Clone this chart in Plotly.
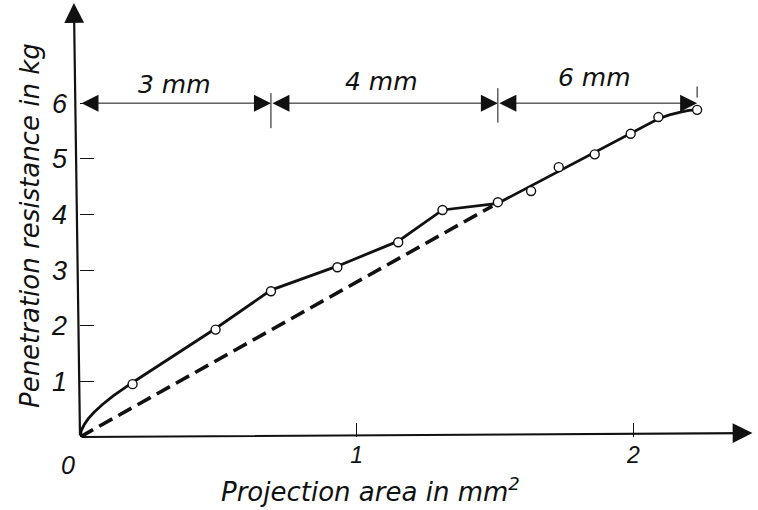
import plotly.graph_objects as go

# measured points (projection area mm^2, penetration resistance kg)
pts_x = [0.19, 0.49, 0.69, 0.93, 1.15, 1.31, 1.51, 1.63, 1.73, 1.86, 1.99, 2.09, 2.23]
pts_y = [0.95, 1.93, 2.62, 3.05, 3.50, 4.08, 4.22, 4.42, 4.85, 5.08, 5.45, 5.75, 5.88]

# drawn solid curve through the measurements
curve_x = [0, 0.005, 0.015, 0.03, 0.05, 0.08, 0.12, 0.155, 0.19, 0.49, 0.69, 0.93, 1.15,
           1.31, 1.51, 2.09, 2.13, 2.17, 2.20, 2.23]
curve_y = [0, 0.12, 0.22, 0.33, 0.44, 0.58, 0.74, 0.86, 0.98, 1.95, 2.64, 3.07, 3.52,
           4.08, 4.20, 5.72, 5.79, 5.84, 5.87, 5.88]

# dashed reference line
dash_x = [0, 1.49]
dash_y = [0, 4.15]

# dimension segments (wire diameter ranges)
dim_bounds = [0, 0.69, 1.51, 2.23]
dim_labels = ["3 mm", "4 mm", "6 mm"]
dim_label_x = [0.34, 1.09, 1.86]
dim_label_y = [6.34, 6.39, 6.47]
dim_y = 6.0

x_ticks = [1, 2]
y_ticks = [1, 2, 3, 4, 5, 6]

FONT = "DejaVu Sans"
DIGITS = "Liberation Sans"
INK = "#111111"

fig = go.Figure()
fig.add_trace(go.Scatter(x=dash_x, y=dash_y, mode="lines",
                         line=dict(color=INK, width=3.6, dash="15px,7px"),
                         cliponaxis=False, hoverinfo="skip"))
fig.add_trace(go.Scatter(x=curve_x, y=curve_y, mode="lines",
                         line=dict(color=INK, width=2.8),
                         cliponaxis=False, hoverinfo="skip"))
fig.add_trace(go.Scatter(x=pts_x, y=pts_y, mode="markers",
                         marker=dict(symbol="circle", size=9, color="white",
                                     line=dict(color=INK, width=1.4)),
                         cliponaxis=False))

ann = []
# axes with arrows
ann.append(dict(x=2.43, y=0.07, ax=0, ay=0, xref="x", yref="y", axref="x", ayref="y",
                text="", showarrow=True, arrowhead=2, arrowsize=1.8, arrowwidth=2.2,
                arrowcolor=INK, standoff=0, startstandoff=0))
ann.append(dict(x=-0.022, y=7.8, ax=0, ay=0, xref="x", yref="y", axref="x", ayref="y",
                text="", showarrow=True, arrowhead=2, arrowsize=1.8, arrowwidth=2.2,
                arrowcolor=INK, standoff=0, startstandoff=0))
# dimension arrows
for i in range(3):
    ann.append(dict(x=dim_bounds[i + 1], y=dim_y, ax=dim_bounds[i], ay=dim_y,
                    xref="x", yref="y", axref="x", ayref="y", text="",
                    showarrow=True, arrowhead=2, arrowside="end+start",
                    arrowsize=3.4, arrowwidth=1, arrowcolor=INK,
                    standoff=0, startstandoff=0))
    ann.append(dict(x=dim_label_x[i], y=dim_label_y[i], xref="x", yref="y",
                    xanchor="center", yanchor="middle",
                    text="<i>" + dim_labels[i] + "</i>", showarrow=False,
                    font=dict(family=FONT, size=25, color=INK)))
# origin label
ann.append(dict(x=-0.018, y=-0.065, xref="paper", yref="paper", text="<i>0</i>",
                xanchor="center", yanchor="middle",
                showarrow=False, font=dict(family=DIGITS, size=25, color=INK)))
# axis titles
ann.append(dict(x=-0.074, y=0.488, xref="paper", yref="paper",
                xanchor="center", yanchor="middle",
                text="<i>Penetration resistance in kg</i>",
                textangle=-90, showarrow=False, font=dict(family=FONT, size=26, color=INK)))
ann.append(dict(x=0.428, y=-0.122, xref="paper", yref="paper",
                xanchor="center", yanchor="middle",
                text="<i>Projection area in mm<sup>2</sup></i>",
                showarrow=False, font=dict(family=FONT, size=26, color=INK)))

shapes = []
# boundary marks of the dimension line
tick_lo = [5.55, 5.65, 6.1]
tick_hi = [6.18, 6.27, 6.3]
for b, lo, hi in zip(dim_bounds[1:], tick_lo, tick_hi):
    shapes.append(dict(type="line", xref="x", yref="y", x0=b, x1=b, y0=lo, y1=hi,
                       line=dict(color=INK, width=1)))

fig.update_layout(
    width=758, height=510,
    margin=dict(l=80, r=0, t=3, b=73),
    paper_bgcolor="white", plot_bgcolor="white",
    showlegend=False,
    annotations=ann, shapes=shapes,
    xaxis=dict(range=[0, 2.45], showgrid=False, zeroline=False, showline=False,
               tickvals=x_ticks, ticktext=["<i>%d</i>" % v for v in x_ticks],
               ticks="inside", ticklen=14, tickwidth=1, tickcolor=INK,
               ticklabelstandoff=2,
               tickfont=dict(family=DIGITS, size=23, color=INK)),
    yaxis=dict(range=[0, 7.8], showgrid=False, zeroline=False, showline=False,
               tickvals=y_ticks, ticktext=["<i>%d</i>" % v for v in y_ticks],
               ticks="inside", ticklen=14, tickwidth=1, tickcolor=INK,
               ticklabelstandoff=12,
               tickfont=dict(family=DIGITS, size=27, color=INK)),
)

fig.write_html("out.html", config={"displayModeBar": False},
               post_script="document.body.style.margin='0';")
